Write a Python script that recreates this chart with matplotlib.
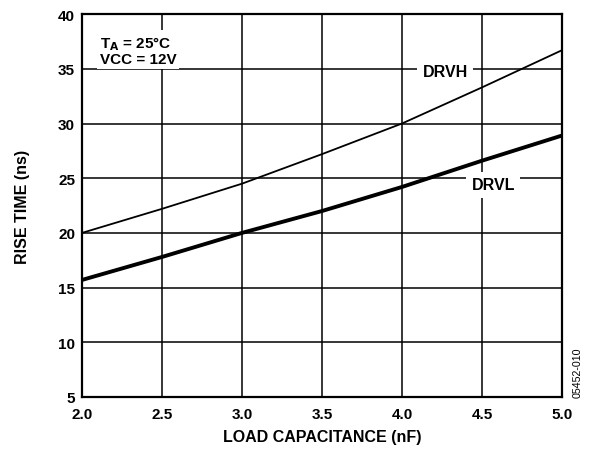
import matplotlib.pyplot as plt

plt.rcParams['font.family'] = ['Liberation Sans', 'DejaVu Sans']

cap_nf = [2.0, 2.5, 3.0, 3.5, 4.0, 4.5, 5.0]
drvh_ns = [20.0, 22.2, 24.5, 27.2, 30.0, 33.3, 36.7]
drvl_ns = [15.7, 17.8, 20.0, 22.0, 24.2, 26.6, 28.9]

x_ticks = [2.0, 2.5, 3.0, 3.5, 4.0, 4.5, 5.0]
y_ticks = [5, 10, 15, 20, 25, 30, 35, 40]

fig = plt.figure(figsize=(5.94, 4.52), dpi=100)
ax = fig.add_axes([0.138, 0.1195, 0.808, 0.847])

ax.plot(cap_nf, drvh_ns, color='black', lw=1.3, zorder=3)
ax.plot(cap_nf, drvl_ns, color='black', lw=2.8, zorder=3)

ax.set_xlim(2.0, 5.0)
ax.set_ylim(5, 40)
ax.set_xticks(x_ticks)
ax.set_yticks(y_ticks)
ax.set_xticklabels(['%.1f' % v for v in x_ticks], fontsize=11, fontweight='bold')
ax.set_yticklabels([str(v) for v in y_ticks], fontsize=11, fontweight='bold')
ax.tick_params(axis='x', length=0, pad=7)
ax.tick_params(axis='y', length=0, pad=5)
ax.grid(True, color='black', lw=1.1)
for s in ax.spines.values():
    s.set_linewidth(1.6)

ax.set_xlabel('LOAD CAPACITANCE (nF)', fontsize=11.5, fontweight='bold', labelpad=6)
ax.set_ylabel('RISE TIME (ns)', fontsize=11.5, fontweight='bold', labelpad=20)

box = dict(facecolor='white', edgecolor='none', pad=2)
ax.text(2.11, 36.7, 'T$_\\mathbf{A}$ = 25°C\nVCC = 12V', fontsize=11, fontweight='bold',
        va='center', ha='left', linespacing=1.0, bbox=box, zorder=4)
ax.text(4.27, 34.8, 'DRVH', fontsize=11.5, fontweight='bold', va='center', ha='center',
        bbox=dict(facecolor='white', edgecolor='none', pad=4), zorder=4)
ax.text(4.57, 24.4, 'DRVL', fontsize=11.5, fontweight='bold', va='center', ha='center',
        bbox=dict(facecolor='white', edgecolor='none', pad=4), zorder=4)

fig.text(0.973, 0.175, '05452-010', rotation=90, fontsize=7.7, va='center', ha='center')

fig.savefig('out.png', dpi=100)
